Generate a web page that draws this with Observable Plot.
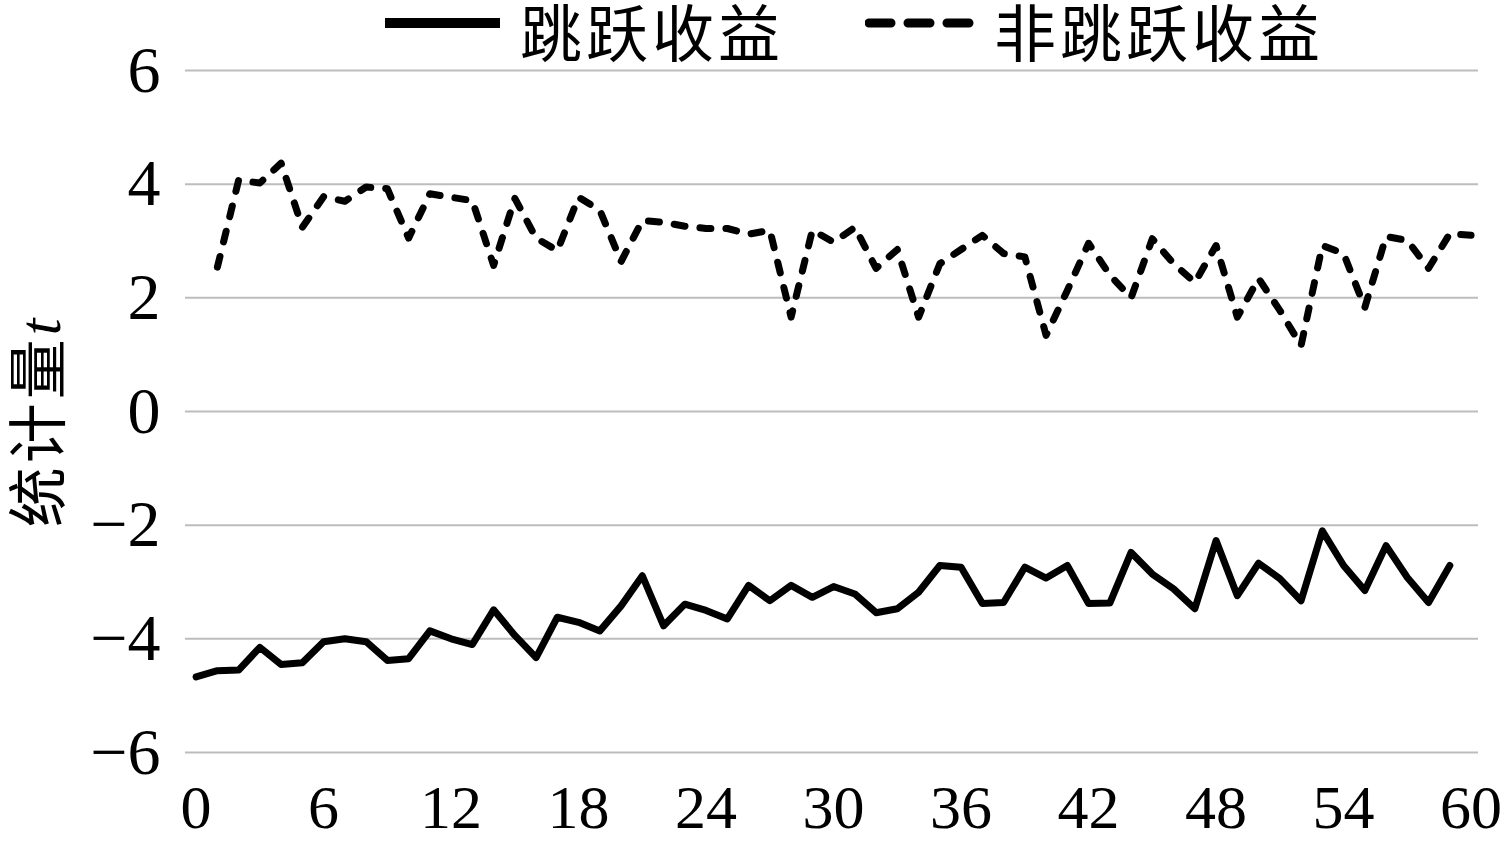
<!DOCTYPE html>
<html>
<head>
<meta charset="utf-8">
<script src="https://cdn.jsdelivr.net/npm/d3@7"></script>
<script src="https://cdn.jsdelivr.net/npm/@observablehq/plot@0.6"></script>
<style>
  html, body { margin: 0; padding: 0; background: #fff; }
  #wrap { position: relative; width: 1507px; height: 845px; }
  #legend { position: absolute; left: 0; top: 0; width: 1507px; height: 70px; z-index: 2; }
  .lg-item { position: absolute; top: 3px; height: 66px; line-height: 66px;
    font-family: "Liberation Serif", "Noto Sans CJK SC", sans-serif; font-size: 62px; letter-spacing: 4px; color: #000; white-space: nowrap; }
  .lg-swatch { position: absolute; top: 13px; }
  #chart { position: absolute; left: 0; top: 0; }
</style>
</head>
<body>
<div id="wrap">
  <div id="chart"></div>
  <div id="legend"></div>
</div>
<script>
// ---- data ----
const seriesNames = ["跳跃收益", "非跳跃收益"];
const yTitle = "统计量";
const yTitleItalic = "t";
const xTicks = [0, 6, 12, 18, 24, 30, 36, 42, 48, 54, 60];
const yTicks = [-6, -4, -2, 0, 2, 4, 6];

const jumpPeriods = d3.range(0, 60);
const jumpT = [
  -4.67, -4.56, -4.55, -4.15, -4.45, -4.42, -4.05, -4.00, -4.05, -4.38,
  -4.35, -3.86, -4.00, -4.10, -3.49, -3.94, -4.33, -3.62, -3.71, -3.86,
  -3.42, -2.89, -3.77, -3.39, -3.50, -3.65, -3.06, -3.33, -3.06, -3.27,
  -3.08, -3.21, -3.54, -3.47, -3.18, -2.71, -2.74, -3.38, -3.36, -2.74,
  -2.93, -2.71, -3.38, -3.37, -2.48, -2.86, -3.12, -3.47, -2.27, -3.24,
  -2.67, -2.94, -3.33, -2.10, -2.71, -3.15, -2.36, -2.92, -3.36, -2.71
];

const nonJumpPeriods = d3.range(1, 61);
const nonJumpT = [
  2.54, 4.07, 4.02, 4.37, 3.24, 3.78, 3.70, 3.95, 3.92, 3.05,
  3.83, 3.77, 3.71, 2.57, 3.75, 3.05, 2.83, 3.77, 3.54, 2.64,
  3.36, 3.33, 3.26, 3.22, 3.22, 3.12, 3.19, 1.66, 3.19, 2.98,
  3.24, 2.52, 2.85, 1.66, 2.60, 2.85, 3.10, 2.78, 2.72, 1.34,
  2.13, 2.96, 2.40, 2.00, 3.04, 2.60, 2.27, 2.92, 1.66, 2.34,
  1.78, 1.16, 2.92, 2.78, 1.83, 3.08, 3.01, 2.52, 3.13, 3.10
];

const jumpData = jumpPeriods.map((p, i) => ({period: p, t: jumpT[i]}));
const nonJumpData = nonJumpPeriods.map((p, i) => ({period: p, t: nonJumpT[i]}));

// ---- legend (HTML, drawn over the top margin) ----
const legend = document.getElementById("legend");
function addLegend(name, left, textLeft, dashed) {
  const sw = document.createElementNS("http://www.w3.org/2000/svg", "svg");
  sw.setAttribute("class", "lg-swatch");
  sw.setAttribute("width", "120");
  sw.setAttribute("height", "20");
  sw.style.left = left + "px";
  const ln = document.createElementNS("http://www.w3.org/2000/svg", "line");
  ln.setAttribute("x1", dashed ? 4 : 0); ln.setAttribute("x2", dashed ? 106 : 115);
  ln.setAttribute("y1", 10); ln.setAttribute("y2", 10);
  ln.setAttribute("stroke", "#000");
  ln.setAttribute("stroke-width", "10");
  if (dashed) { ln.setAttribute("stroke-dasharray", "22,17"); ln.setAttribute("stroke-linecap", "round"); ln.setAttribute("stroke-width", "9"); }
  sw.appendChild(ln);
  legend.appendChild(sw);
  const tx = document.createElement("div");
  tx.className = "lg-item";
  tx.style.left = textLeft + "px";
  tx.textContent = name;
  legend.appendChild(tx);
}
addLegend(seriesNames[0], 385, 520, false);
addLegend(seriesNames[1], 865, 994, true);

// ---- chart ----
const plot = Plot.plot({
  width: 1507,
  height: 845,
  marginTop: 70,
  marginBottom: 93,
  marginLeft: 185,
  marginRight: 29,
  style: {fontFamily: "'Liberation Serif', serif", fontSize: "66px", color: "#000", background: "transparent"},
  x: {domain: [-0.5, 60.35]},
  y: {domain: [-6, 6]},
  marks: [
    Plot.gridY(yTicks, {stroke: "#bdbdbd", strokeOpacity: 1, strokeWidth: 2}),
    Plot.axisY(yTicks, {tickSize: 0, tickPadding: 25, label: null, fill: "#000", tickFormat: d3.format("d")}),
    Plot.axisX(xTicks, {tickSize: 0, tickPadding: 31, label: null, fill: "#000", fontSize: 62, tickFormat: d3.format("d")}),
    Plot.line(jumpData, {x: "period", y: "t", stroke: "#000", strokeWidth: 7, strokeLinejoin: "round", strokeLinecap: "round"}),
    Plot.line(nonJumpData, {x: "period", y: "t", stroke: "#000", strokeWidth: 7, strokeLinejoin: "round", strokeLinecap: "round", strokeDasharray: "11,15"})
  ]
});
document.getElementById("chart").appendChild(plot);

// y-axis title
const svg = d3.select(plot);
const title = svg.append("text")
  .attr("transform", "translate(40, 423) rotate(-90)")
  .attr("text-anchor", "middle")
  .attr("dominant-baseline", "central")
  .attr("fill", "#000")
  .style("font-family", "'Liberation Serif', 'Noto Sans CJK SC', sans-serif")
  .style("font-size", "60px")
  .style("letter-spacing", "4px");
title.append("tspan").text(yTitle);
title.append("tspan")
  .style("font-style", "italic")
  .style("letter-spacing", "0px")
  .text(yTitleItalic);
</script>
</body>
</html>
